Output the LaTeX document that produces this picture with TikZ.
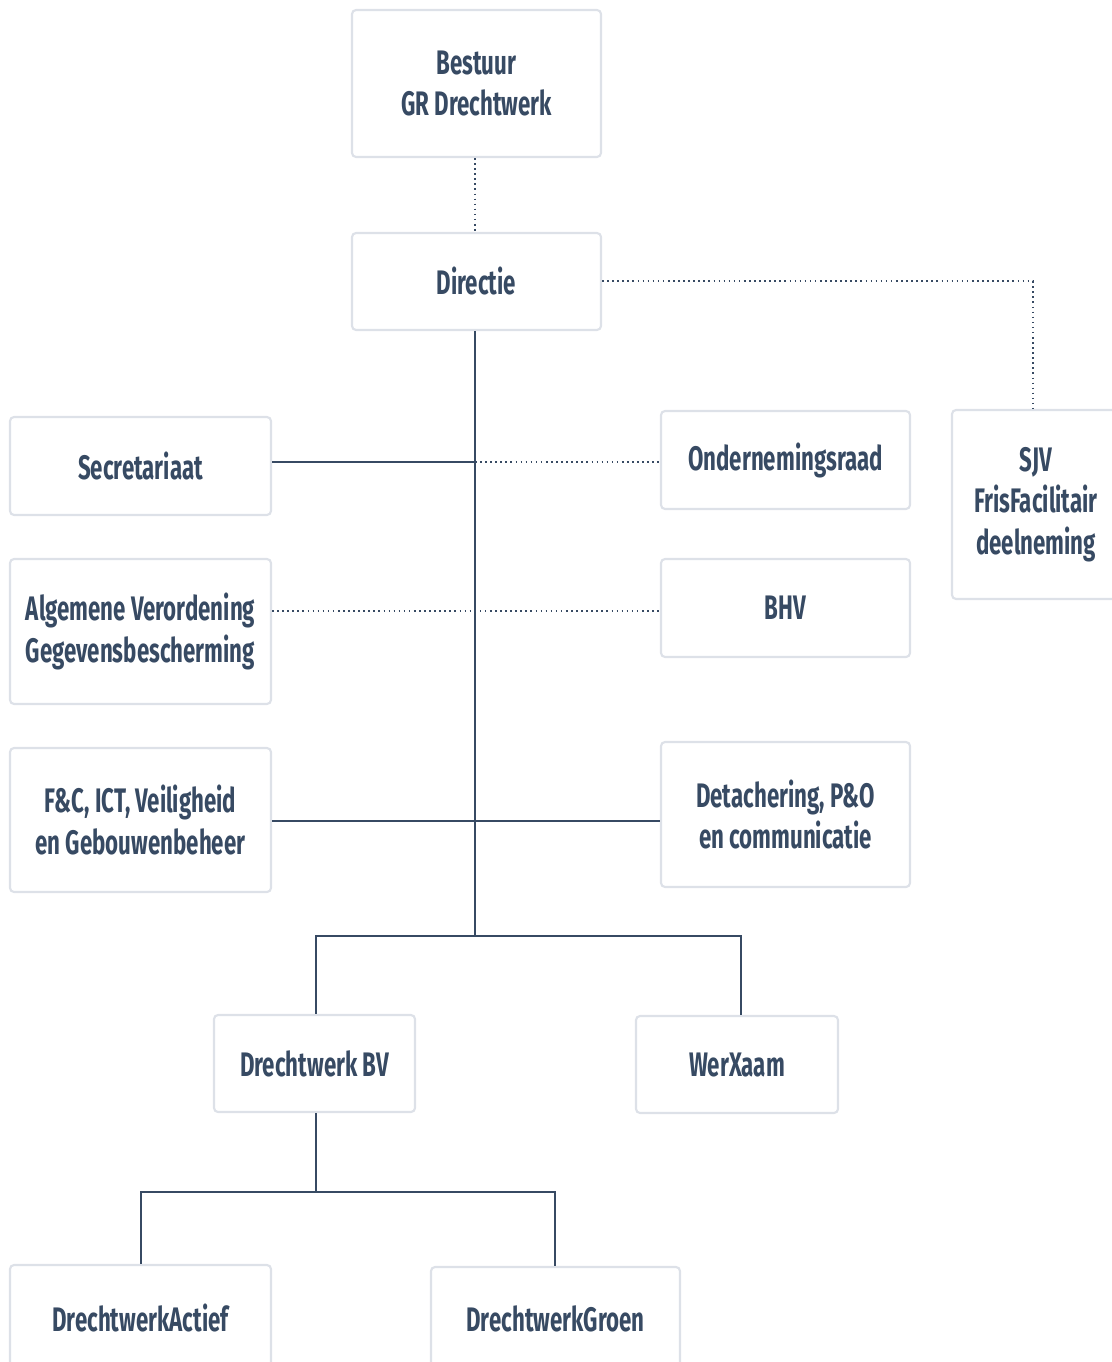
\documentclass[tikz,border=0pt]{standalone}
\usepackage{fontspec}
\setmainfont{Fira Sans}[FakeStretch=0.655]
\definecolor{txt}{HTML}{374A63}
\definecolor{boxline}{HTML}{DDE1E8}
\begin{document}
\begin{tikzpicture}[x=0.75pt,y=-0.75pt,
  box/.style={draw=boxline,line width=1.6pt,fill=white,rounded corners=3pt,
    text=txt,font=\fontsize{25.5}{31}\selectfont\bfseries,align=center,inner sep=0pt},
  sz/.style n args={2}{minimum width=#1*0.75pt,minimum height=#2*0.75pt},
  solidline/.style={draw=txt,line width=1.4pt},
  dotline/.style={draw=txt,line width=1.5pt,dash pattern=on 1.2pt off 2.6pt}]
\useasboundingbox (0,0) rectangle (1111,1362);
\node[box,sz={249}{147}] (best) at (476.5,83.5) {Bestuur\\GR Drechtwerk};
\node[box,sz={249}{97}] (dir) at (476.5,281.5) {Directie};
\node[box,sz={261}{98}] (sec) at (140.5,466) {Secretariaat};
\node[box,sz={249}{98}] (or) at (785.5,460) {Ondernemingsraad};
\node[box,sz={168}{189}] (sjv) at (1036,504.5) {SJV\\FrisFacilitair\\deelneming};
\node[box,sz={261}{145}] (avg) at (140.5,631.5) {Algemene Verordening\\Gegevensbescherming};
\node[box,sz={249}{98}] (bhv) at (785.5,608) {BHV};
\node[box,sz={261}{144}] (fc) at (140.5,820) {F\&C, ICT, Veiligheid\\en Gebouwenbeheer};
\node[box,sz={249}{145}] (det) at (785.5,814.5) {Detachering, P\&O\\en communicatie};
\node[box,sz={201}{97}] (bv) at (314.5,1063.5) {Drechtwerk BV};
\node[box,sz={202}{97}] (wx) at (737,1064.5) {WerXaam};
\node[box,sz={261}{105}] (act) at (140.5,1317.5) {DrechtwerkActief};
\node[box,sz={249}{103}] (groen) at (555.5,1318.5) {DrechtwerkGroen};
% coordinates
\coordinate (j1) at (475,462);
\coordinate (j2) at (475,611);
\coordinate (j3) at (475,821);
\coordinate (j4) at (475,936);
\coordinate (cor) at (1033,282);
\coordinate (b1) at (316,1192);
% connectors
\draw[dotline] (best.south -| j1) -- (dir.north -| j1);
\draw[dotline] (dir.east) -- (dir.east -| cor) -- (sjv.north -| cor);
\draw[solidline] (dir.south -| j1) -- (j4);
\draw[solidline] (sec.east |- j1) -- (j1);
\draw[dotline] (j1) -- (or.west |- j1);
\draw[dotline] (avg.east |- j2) -- (bhv.west |- j2);
\draw[solidline] (fc.east |- j3) -- (det.west |- j3);
\draw[solidline] (bv.north -| 316,0) -- (316,936) -- (741,936) -- (wx.north -| 741,0);
\draw[solidline] (bv.south -| b1) -- (b1);
\draw[solidline] (act.north -| 141,0) -- (141,1192) -- (555,1192) -- (groen.north -| 555,0);
\end{tikzpicture}
\end{document}
